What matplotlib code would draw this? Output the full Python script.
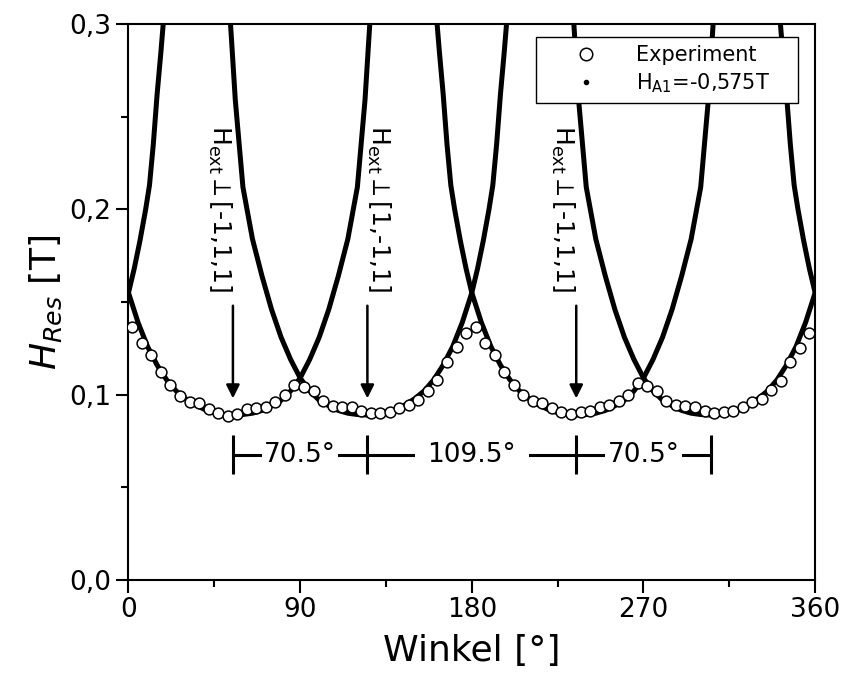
import numpy as np
import matplotlib.pyplot as plt
from matplotlib.lines import Line2D

# measured resonance field (open circles)
exp_angle = np.arange(2, 358, 5)
exp_field = [0.1364, 0.1279, 0.1216, 0.1121, 0.1054, 0.0995, 0.0958, 0.0953,
             0.0923, 0.0899, 0.0886, 0.0896, 0.0923, 0.0928, 0.0935, 0.0958,
             0.0998, 0.1054, 0.1039, 0.1018, 0.0968, 0.0941, 0.0931, 0.0931,
             0.0914, 0.0899, 0.0903, 0.0904, 0.0928, 0.0946, 0.0971, 0.1022,
             0.1079, 0.1175, 0.1256, 0.1334, 0.1364, 0.1279, 0.1216, 0.1121,
             0.1054, 0.1000, 0.0968, 0.0957, 0.0928, 0.0904, 0.0896, 0.0904,
             0.0914, 0.0931, 0.0946, 0.0964, 0.1000, 0.1061, 0.1049, 0.1022,
             0.0968, 0.0946, 0.0939, 0.0935, 0.0914, 0.0899, 0.0904, 0.0914,
             0.0931, 0.0958, 0.0977, 0.1025, 0.1076, 0.1175, 0.1252, 0.1334]

# one branch of the simulated curve (H_A1 = -0,575 T);
# the other branches are the same branch mirrored / shifted by 180 deg
sim_angle = [53.5, 56, 60, 65, 70, 75, 80, 85, 90, 95, 100, 105, 110, 115,
             120, 125, 130, 135, 140, 145, 150, 155, 160, 165, 170, 175,
             180, 183, 186, 189, 191, 193, 195, 197, 199]
sim_field = [0.300, 0.259, 0.212, 0.184, 0.164, 0.146, 0.131, 0.119, 0.109,
             0.102, 0.097, 0.094, 0.0915, 0.0900, 0.0893, 0.0890, 0.0893,
             0.0903, 0.0920, 0.0945, 0.0978, 0.102, 0.108, 0.116, 0.126,
             0.139, 0.155, 0.168, 0.183, 0.200, 0.213, 0.235, 0.262, 0.285,
             0.310]

hard_axes = [54.75, 125.25, 234.75, 305.25]
hard_labels = [r'H$_{\mathrm{ext}}$$\perp$[-1,1,1]',
               r'H$_{\mathrm{ext}}$$\perp$[1,-1,1]',
               r'H$_{\mathrm{ext}}$$\perp$[-1,1,1]']
gap_labels = ['70.5°', '109.5°', '70.5°']

fig = plt.figure(figsize=(8.42, 6.88), dpi=100)
ax = fig.add_axes([0.1526, 0.157, 0.8155, 0.808])

sa = np.array(sim_angle)
sf = np.array(sim_field)
for a in [sa, 180 - sa, 360 - sa, sa + 180, sa - 180, 540 - sa]:
    ax.plot(a, sf, color='k', lw=3.6, solid_capstyle='round', zorder=2)

ax.plot(exp_angle, exp_field, 'o', ms=7.8, mfc='white', mec='k', mew=1.1,
        zorder=3)

# arrows + rotated labels
text_side = ['right', 'left', 'right']
for ang, lab, side in zip(hard_axes[:3], hard_labels, text_side):
    xt = ang if side == 'right' else ang - 1.5
    ax.text(xt, 0.2455, lab, rotation=-90, ha=side, va='top', fontsize=18)
    ax.annotate('', xy=(ang, 0.098), xytext=(ang, 0.148),
                arrowprops=dict(arrowstyle='-|>', lw=1.8, color='k',
                                mutation_scale=20, shrinkA=0, shrinkB=0))

# angle spacing bar
ybar = 0.0675
ax.plot([hard_axes[0], hard_axes[-1]], [ybar, ybar], color='k', lw=2.2, zorder=2)
ax.vlines(hard_axes, ybar - 0.0105, ybar + 0.0105, color='k', lw=2.2)
for i, lab in enumerate(gap_labels):
    xm = (hard_axes[i] + hard_axes[i + 1]) / 2
    pad = 1.5 if i != 1 else 9
    ax.text(xm, ybar, lab, ha='center', va='center', fontsize=19,
            bbox=dict(facecolor='white', edgecolor='none', pad=pad), zorder=4)

ax.set_xlim(0, 360)
ax.set_ylim(0, 0.3)
ax.set_xticks([0, 90, 180, 270, 360])
ax.set_xticks([45, 135, 225, 315], minor=True)
ax.set_yticks([0, 0.1, 0.2, 0.3])
ax.set_yticklabels(['0,0', '0,1', '0,2', '0,3'])
ax.set_yticks([0.05, 0.15, 0.25], minor=True)
ax.tick_params(which='both', labelsize=19, width=1.5, direction='out')
ax.tick_params(which='major', length=9)
ax.tick_params(which='minor', length=5)
for s in ax.spines.values():
    s.set_linewidth(1.5)

ax.set_xlabel('Winkel [°]', fontsize=26, labelpad=8)
ax.set_ylabel(r'$H_{Res}$ [T]', fontsize=26, labelpad=4)

handles = [Line2D([], [], ls='none', marker='o', ms=9, mfc='white', mec='k', mew=1.1),
           Line2D([], [], ls='none', marker='.', ms=6, color='k')]
leg = ax.legend(handles, ['Experiment     ', r'H$_{\mathrm{A1}}$=-0,575T  '],
                loc='upper right', bbox_to_anchor=(0.975, 0.977), fontsize=15,
                frameon=True, fancybox=False, edgecolor='k', framealpha=1,
                borderpad=0.4, handlelength=4.0, handletextpad=0.4,
                labelspacing=0.3, borderaxespad=0)
leg.get_frame().set_linewidth(1.0)

fig.savefig('out.png', dpi=100)
